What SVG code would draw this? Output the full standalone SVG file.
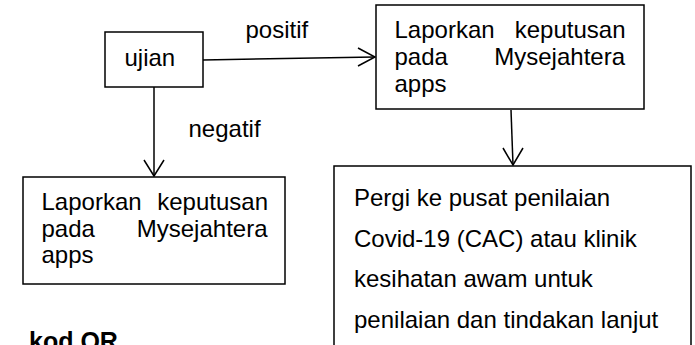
<svg xmlns="http://www.w3.org/2000/svg" width="695" height="345" viewBox="0 0 695 345">
<style>
.box{fill:#fff;stroke:#000;stroke-width:1.5}
.ln{fill:none;stroke:#000;stroke-width:1.5}
.t{font-family:"Liberation Sans",Arial,sans-serif;font-size:24px;fill:#000}
.b{font-family:"Liberation Sans",Arial,sans-serif;font-size:25px;font-weight:bold;fill:#000}
</style>
<rect width="695" height="345" fill="#fff"/>
<g id="connectors">
<line class="ln" x1="203" y1="60" x2="375" y2="57"/>
<polyline class="ln" points="358,48 375,57 358,66"/>
<line class="ln" x1="154" y1="87" x2="154" y2="176"/>
<polyline class="ln" points="144,160 154,176 164,160"/>
<line class="ln" x1="511" y1="110" x2="513" y2="165"/>
<polyline class="ln" points="503,148 513,165 523,148"/>
<text class="t" x="245.5" y="38">positif</text>
<text class="t" x="188.5" y="137">negatif</text>
</g>
<g id="ujian">
<rect class="box" x="105" y="32" width="98" height="55"/>
<text class="t" x="124.5" y="66">ujian</text>
</g>
<g id="lapor-positif">
<rect class="box" x="376" y="5" width="268" height="104"/>
<text class="t" y="38"><tspan x="394.5">Laporkan</tspan><tspan x="625.5" text-anchor="end">keputusan</tspan></text>
<text class="t" y="65"><tspan x="394.5">pada</tspan><tspan x="625" text-anchor="end">Mysejahtera</tspan></text>
<text class="t" x="394.5" y="92">apps</text>
</g>
<g id="lapor-negatif">
<rect class="box" x="23" y="177" width="262" height="107"/>
<text class="t" y="210"><tspan x="41.5">Laporkan</tspan><tspan x="268" text-anchor="end">keputusan</tspan></text>
<text class="t" y="237"><tspan x="41.5">pada</tspan><tspan x="267.5" text-anchor="end">Mysejahtera</tspan></text>
<text class="t" x="41.5" y="263">apps</text>
</g>
<g id="pergi">
<rect class="box" x="334" y="166" width="357" height="200"/>
<text class="t" x="354" y="206">Pergi ke pusat penilaian</text>
<text class="t" x="354" y="247">Covid-19 (CAC) atau klinik</text>
<text class="t" x="354" y="287">kesihatan awam untuk</text>
<text class="t" x="354" y="328">penilaian dan tindakan lanjut</text>
</g>
<g id="kod-qr">
<text class="b" x="29" y="350">kod QR</text>
</g>
</svg>
